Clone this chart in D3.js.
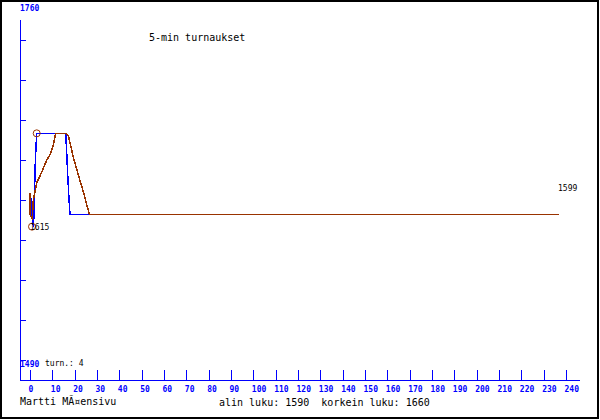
<!DOCTYPE html>
<html>
<head>
<meta charset="utf-8">
<script src="https://cdn.jsdelivr.net/npm/d3@7"></script>
<style>
  body { margin: 0; background: #fff; }
  text { font-family: "DejaVu Sans Mono", monospace; white-space: pre; }
</style>
</head>
<body>
<svg id="chart" width="600" height="420"></svg>
<script>
// blue series (raw turns)
const blueX = [0.3, 0.5, 0.8, 1.0, 1.3, 1.6, 2.0, 2.4, 3.0, 16.0, 16.4, 16.9, 17.4, 17.9, 237];
const blueV = [1612, 1610, 1605, 1598, 1592, 1590, 1615, 1640, 1660, 1660, 1647, 1628, 1613, 1599, 1599];

// brown series (5-min)
const brownX = [0, 0.1, 0.6, 1.0, 1.5, 2.2, 3.0, 4.5, 6.0, 7.5, 9.0, 10.4, 11.5, 16.0, 17.2, 19.4, 21.6, 23.9, 26.6, 237];
const brownV = [1615, 1599, 1597, 1596, 1610, 1616, 1623, 1628, 1634, 1640, 1644, 1651, 1660, 1660, 1658, 1642, 1629, 1616, 1599, 1599];

const xTicks = d3.range(0, 241, 10);
const yTicks = d3.range(1730, 1489, -30);

const maxPoint = { x: 3.0, v: 1660 };
const minPoint = { x: 0.9, v: 1590 };
const lastValue = 1599;
const minLabel = "1615";
const yTop = 1760, yBottom = 1490;

const title = "5-min turnaukset";
const author = "Martti MÃ¤ensivu";
const stats = "alin luku: 1590  korkein luku: 1660";
const turns = "turn.: 4";

/**
 * Draws the whole chart on the svg.
 */
function drawChart() {
  var svg = d3.select("#chart");

  var xScale = d3.scaleLinear().domain([0, 240]).range([30, 566]);
  var yScale = d3.scaleLinear().domain([yTop, yBottom]).range([0, 360]);

  // frame
  svg.append("rect")
    .attr("x", 1).attr("y", 1)
    .attr("width", 597).attr("height", 417)
    .attr("fill", "none").attr("stroke", "#000").attr("stroke-width", 2);

  var axes = svg.append("g").attr("shape-rendering", "crispEdges");

  // y axis
  axes.append("line")
    .attr("x1", 20.5).attr("x2", 20.5).attr("y1", 20).attr("y2", 380)
    .attr("stroke", "#00f");
  axes.selectAll(".ytick")
    .data(yTicks)
    .enter().append("line")
    .attr("class", "ytick")
    .attr("x1", 20).attr("x2", 26)
    .attr("y1", function(d) { return Math.round(yScale(d)) + 0.5; })
    .attr("y2", function(d) { return Math.round(yScale(d)) + 0.5; })
    .attr("stroke", "#00f");

  // x axis
  axes.append("line")
    .attr("x1", 20).attr("x2", 580).attr("y1", 380.5).attr("y2", 380.5)
    .attr("stroke", "#00f");
  axes.selectAll(".xtick")
    .data(xTicks)
    .enter().append("line")
    .attr("class", "xtick")
    .attr("x1", function(d) { return Math.round(xScale(d)) + 0.5; })
    .attr("x2", function(d) { return Math.round(xScale(d)) + 0.5; })
    .attr("y1", 370).attr("y2", 380)
    .attr("stroke", "#00f");

  svg.selectAll(".xlabel")
    .data(xTicks)
    .enter().append("text")
    .attr("class", "xlabel")
    .attr("x", function(d) { return xScale(d) - 1.5; })
    .attr("y", 392)
    .attr("fill", "#00f")
    .style("font-size", "8px")
    .style("font-weight", "bold")
    .text(function(d) { return d; });

  svg.append("text")
    .attr("x", 20).attr("y", yScale(yTop) + 11)
    .attr("fill", "#00f").style("font-size", "8px").style("font-weight", "bold")
    .text(yTop);
  svg.append("text")
    .attr("x", 20).attr("y", yScale(yBottom) + 7)
    .attr("fill", "#00f").style("font-size", "8px").style("font-weight", "bold")
    .text(yBottom);

  // series
  var line = d3.line()
    .x(function(d) { return xScale(d[0]); })
    .y(function(d) { return yScale(d[1]); });

  svg.append("path")
    .datum(d3.zip(blueX, blueV))
    .attr("d", line)
    .attr("fill", "none").attr("stroke", "#00f").attr("stroke-width", 1.5)
    .attr("shape-rendering", "crispEdges");

  svg.append("path")
    .datum(d3.zip(brownX, brownV))
    .attr("d", line)
    .attr("fill", "none").attr("stroke", "#993300").attr("stroke-width", 1.5)
    .attr("shape-rendering", "crispEdges");

  // markers
  [maxPoint, minPoint].forEach(function(p) {
    svg.append("circle")
      .attr("cx", xScale(p.x)).attr("cy", yScale(p.v)).attr("r", 3.5)
      .attr("fill", "none").attr("stroke", "#993300");
  });

  svg.append("text")
    .attr("x", xScale(minPoint.x) - 2).attr("y", yScale(minPoint.v) + 3)
    .style("font-size", "8px").text(minLabel);
  svg.append("text")
    .attr("x", 558).attr("y", yScale(lastValue) - 24)
    .style("font-size", "8px").text(lastValue);
  svg.append("text")
    .attr("x", 45).attr("y", 366)
    .style("font-size", "8px").text(turns);

  svg.append("text")
    .attr("x", 149).attr("y", 41)
    .style("font-size", "10px").text(title);
  svg.append("text")
    .attr("x", 20).attr("y", 405)
    .style("font-size", "10px").text(author);
  svg.append("text")
    .attr("x", 219).attr("y", 406)
    .style("font-size", "10px").text(stats);
}

drawChart();
</script>
</body>
</html>
